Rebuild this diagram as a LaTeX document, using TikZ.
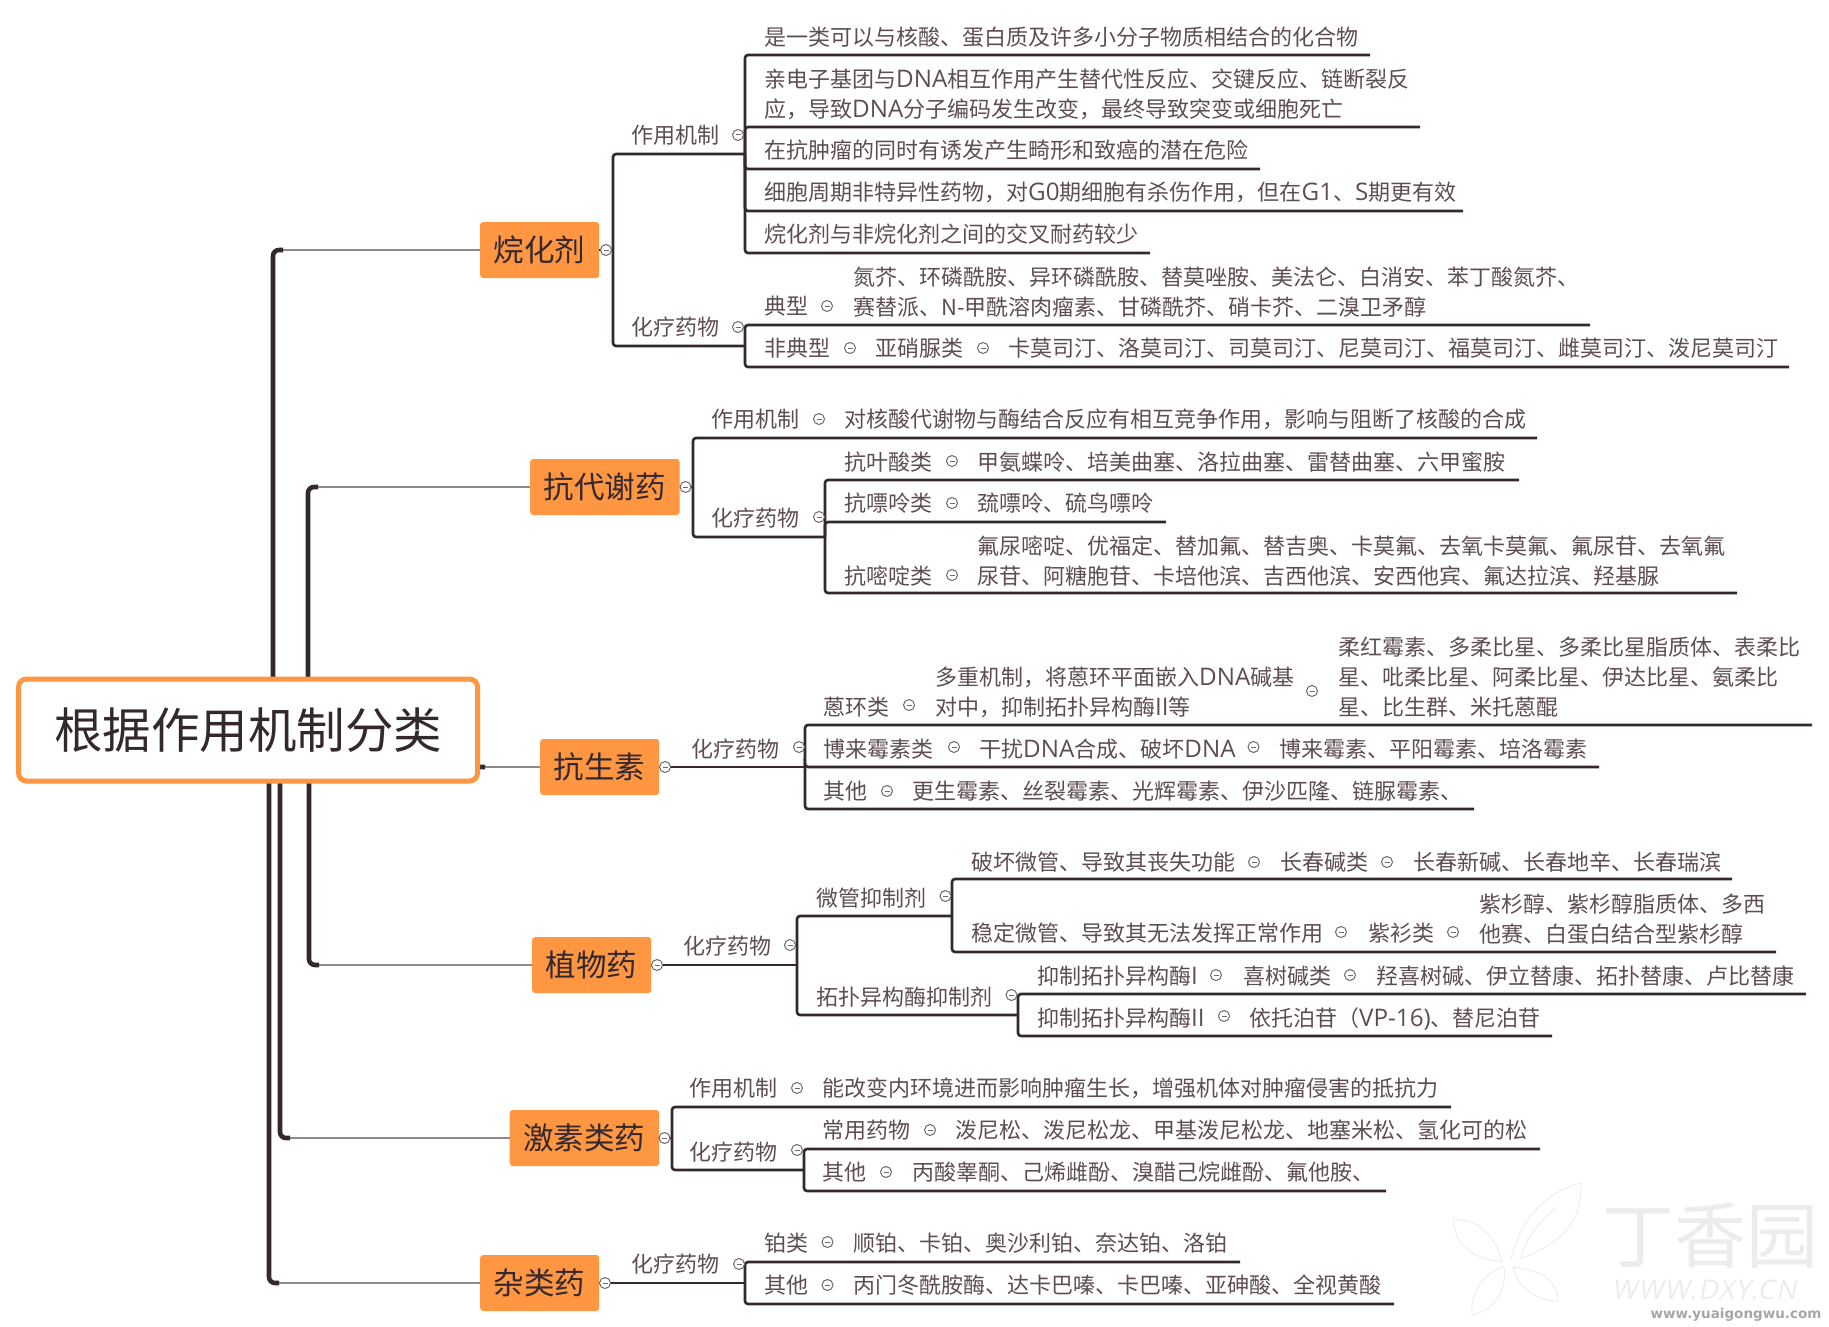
\documentclass[tikz,border=0pt]{standalone}
\usepackage{fontspec}
\setmainfont{Noto Sans CJK SC}
\newfontfamily\wmfont{DejaVu Sans}
\newfontfamily\latinpart[Scale=1.1]{Open Sans}
\newfontfamily\siteface[FakeSlant=0.2,LetterSpace=5]{Open Sans}
\newcommand{\lat}[1]{{\latinpart #1}}
\definecolor{line_dark}{HTML}{33282E}
\definecolor{line_gray}{HTML}{8E878B}
\definecolor{fold_gray}{HTML}{6E676B}
\definecolor{text_brown}{HTML}{5D4D51}
\definecolor{orange_fill}{HTML}{FF9642}
\definecolor{mark_pale}{HTML}{ECECEC}

\begin{document}
\begin{tikzpicture}[
x=1pt, y=-1pt,
root/.style={rectangle, rounded corners=8pt, draw=orange_fill, fill=white, line width=5pt, text=line_dark, minimum width=459pt, minimum height=102pt, inner sep=0pt, font=\fontsize{48.5}{56}\selectfont},
topic/.style={rectangle, rounded corners=3pt, fill=orange_fill, text=line_dark, anchor=west, inner xsep=13.75pt, inner ysep=0pt, minimum height=56pt, font=\fontsize{30.5}{36}\selectfont},
txt/.style={anchor=west, inner sep=0pt, text=text_brown, text height=19.6pt, text depth=2.4pt, font=\fontsize{22}{30}\selectfont},
txt_block/.style={anchor=west, inner sep=0pt, text=text_brown, align=left, font=\fontsize{22}{30}\selectfont},
fold/.style={circle, draw=fold_gray, fill=white, line width=1pt, minimum size=11pt, inner sep=0pt, path picture={\draw[fold_gray, line width=1pt] ([xshift=-2.5pt]path picture bounding box.center) -- ([xshift=2.5pt]path picture bounding box.center);}},
branch/.style={draw=line_dark, line width=2.6pt, rounded corners=3pt},
stem/.style={draw=line_dark, line width=4.6pt, rounded corners=6pt},
stem_thin/.style={draw=line_gray, line width=2.6pt},
mark_line/.style={draw=mark_pale, line width=0.9pt}
]
\useasboundingbox (0,0) rectangle (1829,1327);

% watermark
\draw[mark_line] (1511,1259) .. controls (1520,1220) and (1545,1192) .. (1581,1183) .. controls (1582,1215) and (1570,1240) .. (1520,1259) .. controls (1525,1240) and (1540,1220) .. (1557,1207);
\draw[mark_line] (1502,1262) .. controls (1495,1235) and (1480,1220) .. (1453,1219) .. controls (1455,1245) and (1470,1258) .. (1502,1262);
\draw[mark_line] (1504,1267) .. controls (1485,1272) and (1470,1290) .. (1472,1315) .. controls (1495,1310) and (1507,1290) .. (1504,1267);
\draw[mark_line] (1513,1267) .. controls (1520,1290) and (1535,1300) .. (1558,1301) .. controls (1558,1280) and (1540,1270) .. (1513,1267);
\node[inner sep=0pt, text=mark_pale, font=\fontsize{72}{72}\selectfont](mark_name) at (1710,1235) {丁香园};
\node[inner sep=0pt, text=mark_pale, font=\siteface\fontsize{27}{27}\selectfont](mark_site) at (1704,1290) {WWW.DXY.CN};
\node[inner sep=0pt, text=black!35, font=\wmfont\fontsize{13.5}{14}\selectfont\bfseries](mark_url) at (1736,1315) {www.yuaigongwu.com};

% topic boxes
\node[topic](wan_box) at (480,250) {烷化剂};
\node[topic](dai_box) at (530,487) {抗代谢药};
\node[topic](kang_box) at (540,767) {抗生素};
\node[topic](zhi_box) at (532,965) {植物药};
\node[topic](ji_box) at (509.5,1138) {激素类药};
\node[topic](za_box) at (480,1283) {杂类药};

% stems from the root
\coordinate(wan_stem) at (273,700); \coordinate(wan_turn) at (283,250);
\coordinate(dai_stem) at (308,700); \coordinate(dai_turn) at (318,487);
\coordinate(kang_stem) at (470,750); \coordinate(kang_turn) at (485,767);
\coordinate(zhi_stem) at (309,760); \coordinate(zhi_turn) at (319,965);
\coordinate(ji_stem) at (280,760); \coordinate(ji_turn) at (290,1138);
\coordinate(za_stem) at (269,760); \coordinate(za_turn) at (279,1283);
\foreach \name in {wan,dai,kang,zhi,ji,za}{
  \draw[stem_thin](\name_turn) -- (\name_box);
  \draw[stem](\name_stem) |- (\name_turn);
}
\node[root](root_node) at (248,730) {根据作用机制分类};

% ---- alkylating group
\coordinate(wan_joint) at (613,250);
\coordinate(wan_mech_end) at (745,154);
\coordinate(wan_drug_end) at (745,346);
\coordinate(wan_a_end) at (1370,55);
\coordinate(wan_b_end) at (1420,127);
\coordinate(wan_c_end) at (1260,169);
\coordinate(wan_d_end) at (1463,211);
\coordinate(wan_e_end) at (1150,253);
\coordinate(wan_f_end) at (1590,325);
\coordinate(wan_g_end) at (1789,367);
\draw[branch](wan_box) -- (wan_joint);
\draw[branch](wan_joint) |- (wan_mech_end);
\draw[branch](wan_joint) |- (wan_drug_end);
\foreach \leaf in {a,b,c,d,e}{ \draw[branch](wan_mech_end) |- (wan_\leaf_end); }
\foreach \leaf in {f,g}{ \draw[branch](wan_drug_end) |- (wan_\leaf_end); }
\node[fold](wan_fold) at (606,250) {};
\node[txt](wan_mech) at (631,135) {作用机制};
\node[fold](wan_mech_fold) at (738,135) {};
\node[txt](wan_drug) at (631,327) {化疗药物};
\node[fold](wan_drug_fold) at (738,327) {};
\node[txt](wan_a) at (764,37) {是一类可以与核酸、蛋白质及许多小分子物质相结合的化合物};
\node[txt_block](wan_b) at (764,94) {亲电子基团与\lat{DNA}相互作用产生替代性反应、交键反应、链断裂反\\应，导致\lat{DNA}分子编码发生改变，最终导致突变或细胞死亡};
\node[txt](wan_c) at (764,150) {在抗肿瘤的同时有诱发产生畸形和致癌的潜在危险};
\node[txt](wan_d) at (764,192) {细胞周期非特异性药物，对\lat{G0}期细胞有杀伤作用，但在\lat{G1}、\lat{S}期更有效};
\node[txt](wan_e) at (764,234) {烷化剂与非烷化剂之间的交叉耐药较少};
\node[txt](wan_f) at (764,306) {典型};
\node[fold](wan_f_fold) at (827,306) {};
\node[txt_block](wan_f_list) at (853,292) {氮芥、环磷酰胺、异环磷酰胺、替莫唑胺、美法仑、白消安、苯丁酸氮芥、\\赛替派、N-甲酰溶肉瘤素、甘磷酰芥、硝卡芥、二溴卫矛醇};
\node[txt](wan_g) at (764,348) {非典型};
\node[fold](wan_g_fold) at (850,348) {};
\node[txt](wan_g_kind) at (875,348) {亚硝脲类};
\node[fold](wan_g_kind_fold) at (983,348) {};
\node[txt](wan_g_list) at (1008,348) {卡莫司汀、洛莫司汀、司莫司汀、尼莫司汀、福莫司汀、雌莫司汀、泼尼莫司汀};

% ---- antimetabolite group
\coordinate(dai_joint) at (693,487);
\coordinate(dai_mech_end) at (1537,438);
\coordinate(dai_drug_end) at (825,537);
\coordinate(dai_a_end) at (1519,480);
\coordinate(dai_b_end) at (1166,522);
\coordinate(dai_c_end) at (1737,593);
\draw[branch](dai_box) -- (dai_joint);
\draw[branch](dai_joint) |- (dai_mech_end);
\draw[branch](dai_joint) |- (dai_drug_end);
\foreach \leaf in {a,b,c}{ \draw[branch](dai_drug_end) |- (dai_\leaf_end); }
\node[fold](dai_fold) at (685.5,487) {};
\node[txt](dai_mech) at (711,419) {作用机制};
\node[fold](dai_mech_fold) at (819,419) {};
\node[txt](dai_mech_text) at (844,419) {对核酸代谢物与酶结合反应有相互竞争作用，影响与阻断了核酸的合成};
\node[txt](dai_drug) at (711,518) {化疗药物};
\node[fold](dai_drug_fold) at (819,517) {};
\node[txt](dai_a) at (844,462) {抗叶酸类};
\node[fold](dai_a_fold) at (952,461) {};
\node[txt](dai_a_list) at (977,462) {甲氨蝶呤、培美曲塞、洛拉曲塞、雷替曲塞、六甲蜜胺};
\node[txt](dai_b) at (844,503) {抗嘌呤类};
\node[fold](dai_b_fold) at (952,503) {};
\node[txt](dai_b_list) at (977,503) {巯嘌呤、硫鸟嘌呤};
\node[txt](dai_c) at (844,576) {抗嘧啶类};
\node[fold](dai_c_fold) at (952,575) {};
\node[txt_block](dai_c_list) at (977,561) {氟尿嘧啶、优福定、替加氟、替吉奥、卡莫氟、去氧卡莫氟、氟尿苷、去氧氟\\尿苷、阿糖胞苷、卡培他滨、吉西他滨、安西他宾、氟达拉滨、羟基脲};

% ---- antibiotic group
\coordinate(kang_drug_end) at (805,767);
\coordinate(kang_a_end) at (1812,725);
\coordinate(kang_b_end) at (1599,767);
\coordinate(kang_c_end) at (1474,809);
\draw[branch](kang_box) -- (kang_drug_end);
\foreach \leaf in {a,b,c}{ \draw[branch](kang_drug_end) |- (kang_\leaf_end); }
\node[fold](kang_fold) at (665,767) {};
\node[txt](kang_drug) at (691,749) {化疗药物};
\node[fold](kang_drug_fold) at (799,747) {};
\node[txt](kang_a) at (823,707) {蒽环类};
\node[fold](kang_a_fold) at (909,705) {};
\node[txt_block](kang_a_note) at (935,692) {多重机制，将蒽环平面嵌入\lat{DNA}碱基\\对中，抑制拓扑异构酶\lat{II}等};
\node[fold](kang_a_note_fold) at (1312,691) {};
\node[txt_block](kang_a_list) at (1338.5,677) {柔红霉素、多柔比星、多柔比星脂质体、表柔比\\星、吡柔比星、阿柔比星、伊达比星、氨柔比\\星、比生群、米托蒽醌};
\node[txt](kang_b) at (823,749) {博来霉素类};
\node[fold](kang_b_fold) at (954,747) {};
\node[txt](kang_b_note) at (979,749) {干扰\lat{DNA}合成、破坏\lat{DNA}};
\node[fold](kang_b_note_fold) at (1253.5,747) {};
\node[txt](kang_b_list) at (1279,749) {博来霉素、平阳霉素、培洛霉素};
\node[txt](kang_c) at (823,791) {其他};
\node[fold](kang_c_fold) at (887,791) {};
\node[txt](kang_c_list) at (912,791) {更生霉素、丝裂霉素、光辉霉素、伊沙匹隆、链脲霉素、};

% ---- plant drug group
\coordinate(zhi_drug_end) at (797,965);
\coordinate(zhi_tube_end) at (952,916);
\coordinate(zhi_topo_end) at (1018,1015);
\coordinate(zhi_a_end) at (1732,879);
\coordinate(zhi_b_end) at (1776,952);
\coordinate(zhi_c_end) at (1806,994);
\coordinate(zhi_d_end) at (1552,1036);
\draw[branch](zhi_box) -- (zhi_drug_end);
\draw[branch](zhi_drug_end) |- (zhi_tube_end);
\draw[branch](zhi_drug_end) |- (zhi_topo_end);
\foreach \leaf in {a,b}{ \draw[branch](zhi_tube_end) |- (zhi_\leaf_end); }
\foreach \leaf in {c,d}{ \draw[branch](zhi_topo_end) |- (zhi_\leaf_end); }
\node[fold](zhi_fold) at (657,965) {};
\node[txt](zhi_drug) at (683,946) {化疗药物};
\node[fold](zhi_drug_fold) at (790,945) {};
\node[txt](zhi_tube) at (816,898) {微管抑制剂};
\node[fold](zhi_tube_fold) at (945.5,896) {};
\node[txt](zhi_topo) at (816,997) {拓扑异构酶抑制剂};
\node[fold](zhi_topo_fold) at (1011.5,995) {};
\node[txt](zhi_a) at (971,862) {破坏微管、导致其丧失功能};
\node[fold](zhi_a_fold) at (1254,862) {};
\node[txt](zhi_a_kind) at (1280,862) {长春碱类};
\node[fold](zhi_a_kind_fold) at (1387,862) {};
\node[txt](zhi_a_list) at (1413,862) {长春新碱、长春地辛、长春瑞滨};
\node[txt](zhi_b) at (971,933) {稳定微管、导致其无法发挥正常作用};
\node[fold](zhi_b_fold) at (1341,932) {};
\node[txt](zhi_b_kind) at (1368,933) {紫衫类};
\node[fold](zhi_b_kind_fold) at (1453,932) {};
\node[txt_block](zhi_b_list) at (1479,919) {紫杉醇、紫杉醇脂质体、多西\\他赛、白蛋白结合型紫杉醇};
\node[txt](zhi_c) at (1037,976) {抑制拓扑异构酶\lat{I}};
\node[fold](zhi_c_fold) at (1216,975) {};
\node[txt](zhi_c_kind) at (1243.5,976) {喜树碱类};
\node[fold](zhi_c_kind_fold) at (1350,975) {};
\node[txt](zhi_c_list) at (1376,976) {羟喜树碱、伊立替康、拓扑替康、卢比替康};
\node[txt](zhi_d) at (1037,1018) {抑制拓扑异构酶\lat{II}};
\node[fold](zhi_d_fold) at (1224,1016) {};
\node[txt](zhi_d_list) at (1249,1018) {依托泊苷（\lat{VP-16)}、替尼泊苷};

% ---- hormone group
\coordinate(ji_joint) at (672,1138);
\coordinate(ji_mech_end) at (1451,1107);
\coordinate(ji_drug_end) at (804,1170);
\coordinate(ji_a_end) at (1540,1149);
\coordinate(ji_b_end) at (1386,1191);
\draw[branch](ji_box) -- (ji_joint);
\draw[branch](ji_joint) |- (ji_mech_end);
\draw[branch](ji_joint) |- (ji_drug_end);
\foreach \leaf in {a,b}{ \draw[branch](ji_drug_end) |- (ji_\leaf_end); }
\node[fold](ji_fold) at (664.5,1138) {};
\node[txt](ji_mech) at (689,1088) {作用机制};
\node[fold](ji_mech_fold) at (797,1088) {};
\node[txt](ji_mech_text) at (822,1088) {能改变内环境进而影响肿瘤生长，增强机体对肿瘤侵害的抵抗力};
\node[txt](ji_drug) at (689,1152) {化疗药物};
\node[fold](ji_drug_fold) at (797,1150) {};
\node[txt](ji_a) at (822,1130) {常用药物};
\node[fold](ji_a_fold) at (930,1130) {};
\node[txt](ji_a_list) at (955,1130) {泼尼松、泼尼松龙、甲基泼尼松龙、地塞米松、氢化可的松};
\node[txt](ji_b) at (822,1172) {其他};
\node[fold](ji_b_fold) at (886,1172) {};
\node[txt](ji_b_list) at (912,1172) {丙酸睾酮、己烯雌酚、溴醋己烷雌酚、氟他胺、};

% ---- other group
\coordinate(za_drug_end) at (745,1283);
\coordinate(za_a_end) at (1240,1262);
\coordinate(za_b_end) at (1394,1304);
\draw[branch](za_box) -- (za_drug_end);
\foreach \leaf in {a,b}{ \draw[branch](za_drug_end) |- (za_\leaf_end); }
\node[fold](za_fold) at (605,1283) {};
\node[txt](za_drug) at (631,1264) {化疗药物};
\node[fold](za_drug_fold) at (739,1264) {};
\node[txt](za_a) at (764,1243) {铂类};
\node[fold](za_a_fold) at (827.5,1242) {};
\node[txt](za_a_list) at (853,1243) {顺铂、卡铂、奥沙利铂、奈达铂、洛铂};
\node[txt](za_b) at (764,1285) {其他};
\node[fold](za_b_fold) at (827.5,1285) {};
\node[txt](za_b_list) at (853,1285) {丙门冬酰胺酶、达卡巴嗪、卡巴嗪、亚砷酸、全视黄酸};

\end{tikzpicture}
\end{document}
